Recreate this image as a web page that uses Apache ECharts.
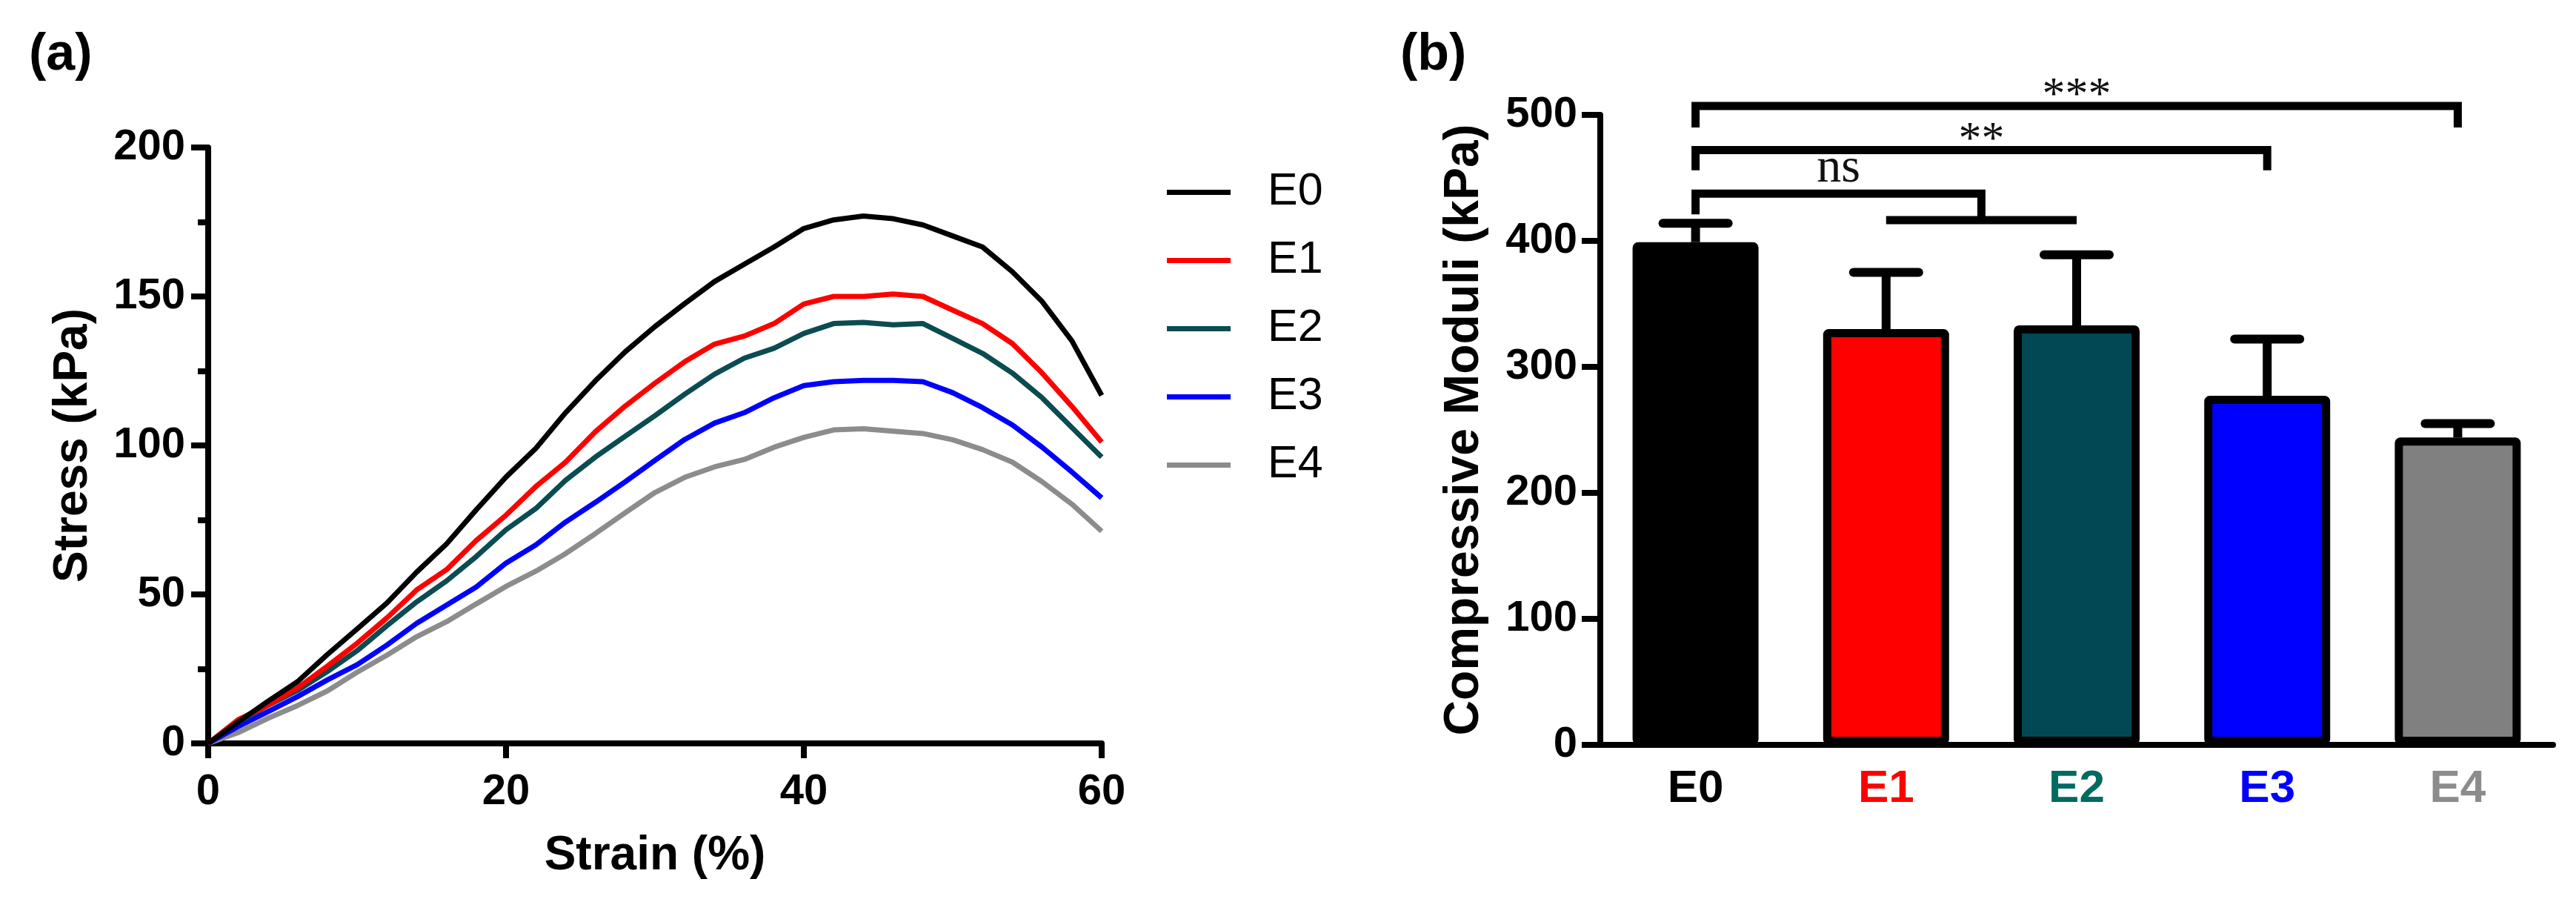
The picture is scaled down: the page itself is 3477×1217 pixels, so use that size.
<!DOCTYPE html>
<html>
<head>
<meta charset="UTF-8">
<title>Stress-strain curves and compressive moduli</title>
<script src="https://cdn.jsdelivr.net/npm/echarts@6/dist/echarts.min.js"></script>
<style>
  html, body { margin: 0; padding: 0; background: #fff; }
  #main { width: 3477px; height: 1217px; }
</style>
</head>
<body>
<div id="main"></div>
<script>
// (a) stress-strain curves, every 2 % strain
var strain = [0, 2, 4, 6, 8, 10, 12, 14, 16, 18, 20, 22, 24, 26, 28, 30,
              32, 34, 36, 38, 40, 42, 44, 46, 48, 50, 52, 54, 56, 58, 60];
var stressE0 = [0, 7.1, 14.1, 20.7, 29.8, 38.4, 47.1, 57.5, 66.9, 78.4, 89.4, 99, 111, 121.7, 131.4, 139.9,
                147.6, 155, 160.8, 166.6, 172.8, 175.7, 177, 176.1, 174, 170.3, 166.6, 158.3, 148.3, 135.1, 116.8];
var stressE1 = [0, 7.9, 12.8, 18.6, 25.9, 33.6, 42.1, 51.5, 58.3, 68.1, 76.6, 86.2, 94.4, 104.6, 113.2, 120.9,
                128.1, 134, 136.7, 140.9, 147.5, 150, 150, 150.8, 150, 145.4, 140.9, 134.2, 124.3, 113.1, 101.1];
var stressE2 = [0, 7.1, 12.7, 17.8, 24.1, 31.1, 39.5, 47.5, 54.5, 62.7, 71.7, 78.8, 88.3, 96.1, 103.1, 110,
                117.2, 123.9, 129.3, 132.6, 137.6, 140.9, 141.3, 140.5, 140.9, 135.9, 130.9, 124.3, 116, 106, 96.1];
var stressE3 = [0, 5.6, 10.6, 15.7, 21.3, 26.4, 33, 40.3, 46.4, 52.5, 60.5, 66.6, 74.3, 80.9, 87.8, 95,
                102, 107.5, 111, 116, 120.1, 121.4, 121.8, 121.8, 121.4, 117.7, 112.7, 106.9, 99.4, 91.1, 82.4];
var stressE4 = [0, 3.6, 8.4, 12.7, 17.6, 23.9, 29.6, 35.8, 40.8, 46.8, 52.7, 57.8, 63.7, 70.4, 77.4, 84.2,
                89.3, 92.8, 95.3, 99.4, 102.7, 105.2, 105.6, 104.8, 104, 101.9, 98.6, 94.4, 87.8, 80.3, 71.2];

// (b) compressive moduli (mean and top of the error bar)
var groups = ['E0', 'E1', 'E2', 'E3', 'E4'];
var moduliMean = [399, 330, 333, 277, 244];
var moduliErrTop = [414, 375, 389, 322, 255];

// significance brackets: from group, to group (1.5 = middle of E1/E2), level, left end, right end
var bracketFrom = [0, 0, 0, 1];
var bracketTo = [4, 3, 1.5, 2];
var bracketLevel = [507, 472, 437.5, 416.5];
var bracketEndLeft = [490, 456, 421, 416.5];
var bracketEndRight = [490, 456, 416.5, 416.5];
var bracketText = ['***', '**', 'ns', ''];

var lineColors = ['#000000', '#ff0000', '#0b4b52', '#0000ff', '#8c8c8c'];
var barColors = ['#000000', '#ff0000', '#024854', '#0000ff', '#808080'];
var labelColors = ['#000000', '#ff0000', '#006b60', '#0000ff', '#8c8c8c'];

var sans = 'Liberation Sans, Arial, sans-serif';
var serif = 'Liberation Serif, Times New Roman, serif';

var myChart = echarts.init(document.getElementById('main'));
var curves = [stressE0, stressE1, stressE2, stressE3, stressE4];

function pairs(vals) {
    return strain.map(function (s, i) { return [s, vals[i]]; });
}

// x pixel for a (possibly fractional) category index
function xAt(api, v) {
    var lo = Math.floor(v), hi = Math.ceil(v);
    var a = api.coord([lo, 0]), b = api.coord([hi, 0]);
    return a[0] + (b[0] - a[0]) * (v - lo);
}

var blackLine = { color: '#000', width: 8 };

var lineSeries = groups.map(function (g, i) {
    return {
        name: g,
        type: 'line',
        xAxisIndex: 0,
        yAxisIndex: 0,
        symbol: 'none',
        lineStyle: { width: 7, color: lineColors[i] },
        itemStyle: { color: lineColors[i] },
        z: 5 - i,
        data: pairs(curves[i])
    };
});

option = {
    animation: false,
    backgroundColor: '#fff',
    title: [
        { text: '(a)', left: 34, top: 35, textStyle: { fontFamily: sans, fontSize: 70, fontWeight: 'bold', color: '#000' } },
        { text: '(b)', left: 1885, top: 35, textStyle: { fontFamily: sans, fontSize: 70, fontWeight: 'bold', color: '#000' } }
    ],
    legend: {
        data: groups,
        orient: 'vertical',
        left: 1570,
        top: 224,
        icon: 'rect',
        itemWidth: 86,
        itemHeight: 7,
        itemGap: 31,
        textStyle: { fontFamily: sans, fontSize: 61, color: '#000', lineHeight: 61, padding: [0, 0, 0, 45] }
    },
    grid: [
        { left: 281, right: 1990, top: 199, bottom: 214 },
        { left: 2160, right: 31, top: 155, bottom: 212 }
    ],
    xAxis: [
        {
            gridIndex: 0, type: 'value', min: 0, max: 60, interval: 20,
            name: 'Strain (%)', nameLocation: 'middle', nameGap: 120,
            nameTextStyle: { fontFamily: sans, fontSize: 64, fontWeight: 'bold', color: '#000' },
            axisLine: { show: true, onZero: true, lineStyle: blackLine },
            axisTick: { show: true, length: 20, lineStyle: blackLine },
            axisLabel: { margin: 37, fontFamily: sans, fontSize: 58, fontWeight: 'bold', color: '#000' },
            splitLine: { show: false }
        },
        {
            gridIndex: 1, type: 'category', data: groups,
            axisLine: { show: true, lineStyle: blackLine },
            axisTick: { show: false },
            axisLabel: {
                margin: 29, fontFamily: sans, fontSize: 62, fontWeight: 'bold',
                color: function (v, i) { return labelColors[i]; }
            }
        }
    ],
    yAxis: [
        {
            gridIndex: 0, type: 'value', min: 0, max: 200, interval: 50,
            name: 'Stress (kPa)', nameLocation: 'middle', nameGap: 150,
            nameTextStyle: { fontFamily: sans, fontSize: 64, fontWeight: 'bold', color: '#000' },
            axisLine: { show: true, lineStyle: blackLine },
            axisTick: { show: true, length: 23, lineStyle: blackLine },
            minorTick: { show: true, splitNumber: 2, length: 14, lineStyle: blackLine },
            axisLabel: { margin: 31, fontFamily: sans, fontSize: 58, fontWeight: 'bold', color: '#000' },
            splitLine: { show: false }
        },
        {
            gridIndex: 1, type: 'value', min: 0, max: 500, interval: 100,
            name: 'Compressive Moduli (kPa)', nameLocation: 'middle', nameGap: 150,
            nameTextStyle: { fontFamily: sans, fontSize: 66, fontWeight: 'bold', color: '#000' },
            axisLine: { show: true, lineStyle: blackLine },
            axisTick: { show: true, length: 25, lineStyle: blackLine },
            axisLabel: { margin: 31, fontFamily: sans, fontSize: 58, fontWeight: 'bold', color: '#000' },
            splitLine: { show: false }
        }
    ],
    series: lineSeries.concat([
        {
            name: 'Moduli',
            type: 'bar',
            xAxisIndex: 1,
            yAxisIndex: 1,
            barWidth: 170,
            z: 3,
            itemStyle: { borderColor: '#000', borderWidth: 11, borderRadius: 2 },
            data: moduliMean.map(function (v, i) {
                return { value: v, itemStyle: { color: barColors[i] } };
            })
        },
        {
            name: 'SD',
            type: 'custom',
            xAxisIndex: 1,
            yAxisIndex: 1,
            z: 2,
            encode: { x: 0, y: 2 },
            data: groups.map(function (g, i) { return [i, moduliMean[i], moduliErrTop[i]]; }),
            renderItem: function (params, api) {
                var base = api.coord([api.value(0), api.value(1)]);
                var top = api.coord([api.value(0), api.value(2)]);
                return {
                    type: 'group',
                    children: [
                        { type: 'line', shape: { x1: base[0], y1: base[1], x2: top[0], y2: top[1] },
                          style: { stroke: '#000', lineWidth: 12 } },
                        { type: 'line', shape: { x1: top[0] - 44, y1: top[1], x2: top[0] + 44, y2: top[1] },
                          style: { stroke: '#000', lineWidth: 12, lineCap: 'round' } }
                    ]
                };
            }
        },
        {
            name: 'Significance',
            type: 'custom',
            xAxisIndex: 1,
            yAxisIndex: 1,
            z: 4,
            encode: { x: [0, 1], y: 2 },
            data: bracketFrom.map(function (f, i) {
                return [f, bracketTo[i], bracketLevel[i], bracketEndLeft[i], bracketEndRight[i]];
            }),
            renderItem: function (params, api) {
                var x1 = xAt(api, api.value(0));
                var x2 = xAt(api, api.value(1));
                var yLev = api.coord([0, api.value(2)])[1];
                var yL = api.coord([0, api.value(3)])[1];
                var yR = api.coord([0, api.value(4)])[1];
                var kids = [{
                    type: 'polyline',
                    shape: { points: [[x1, yL], [x1, yLev], [x2, yLev], [x2, yR]] },
                    style: { stroke: '#000', lineWidth: 11, fill: 'none', lineJoin: 'miter' }
                }];
                var txt = bracketText[params.dataIndex];
                if (txt) {
                    kids.push({
                        type: 'text',
                        x: (x1 + x2) / 2,
                        y: yLev + (txt === 'ns' ? -34 : -13),
                        style: {
                            text: txt, fontFamily: serif, fontSize: txt === 'ns' ? 66 : 62,
                            fill: '#111', align: 'center', verticalAlign: 'middle'
                        }
                    });
                }
                return { type: 'group', children: kids };
            }
        }
    ])
};

myChart.setOption(option);
</script>
</body>
</html>
